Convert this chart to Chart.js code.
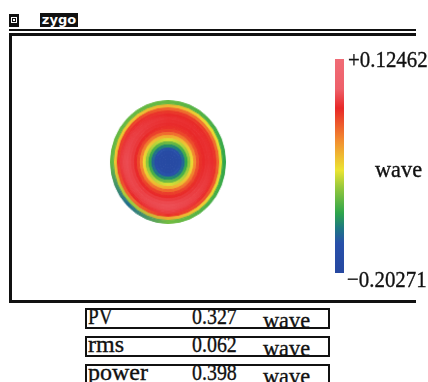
<!DOCTYPE html>
<html>
<head>
<meta charset="utf-8">
<script src="https://cdn.jsdelivr.net/npm/chart.js@4.4.0/dist/chart.umd.min.js"></script>
<style>
  html, body { margin: 0; padding: 0; background: #fff; width: 428px; height: 382px; overflow: hidden; }
  body { position: relative; font-family: "Liberation Serif", "Times New Roman", serif; color: #111; }
  .rule { position: absolute; background: #111; }
  #icon { position: absolute; left: 9px; top: 14px; width: 10px; height: 13px; background: #111; }
  #icon i { position: absolute; left: 2px; top: 3px; width: 4px; height: 4px; border: 1px solid #fff; }
  #icon b { position: absolute; left: 4px; top: 5px; width: 2px; height: 2px; background: #fff; }
  #brand { position: absolute; left: 40px; top: 13px; width: 38px; height: 14px; background: #111; color: #fff;
           font: bold 13px "DejaVu Sans", sans-serif; line-height: 13px; text-align: center; }
  #surface { position: absolute; left: 108px; top: 102px; transform: scale(0.967, 1.033); transform-origin: 60px 60px; }
  #scale { position: absolute; left: 330px; top: 40px; }
  .box { position: absolute; left: 85px; width: 245px; height: 21px; box-sizing: border-box; border: 2px solid #111; }
  .cell { position: absolute; font-size: 24px; line-height: 24px; height: 24px; white-space: nowrap; transform-origin: 0 0;
          -webkit-text-stroke: 0.35px #111; }
</style>
</head>
<body>
<div class="rule" style="left:9px;top:29px;width:407px;height:2px"></div>
<div class="rule" style="left:9px;top:33px;width:407px;height:3px"></div>
<div class="rule" style="left:9px;top:33px;width:3px;height:270px"></div>
<div class="rule" style="left:9px;top:300px;width:407px;height:3px"></div>
<div id="icon"><i></i><b></b></div>
<div id="brand">zygo</div>
<canvas id="surface" width="120" height="120"></canvas>
<canvas id="scale" width="98" height="260"></canvas>
<div id="stats"></div>

<script>
// Surface range (wave) shown on the colour bar
const waveRange = [-0.20271, 0.12462];

// Summary statistics
const statNames = ['PV', 'rms', 'power'];
const statValues = [0.327, 0.062, 0.398];
const statUnit = 'wave';

// Radial surface profiles (wave), aperture centre to edge, 20 equal-width zones,
// along eight azimuths going clockwise from the right-hand side
const east      = [-0.192, -0.191, -0.190, -0.188, -0.178, -0.145, -0.110, -0.075, -0.040, 0.000, 0.028, 0.045, 0.050, 0.053, 0.054, 0.052, 0.044, 0.018, -0.050, -0.110];
const southEast = [-0.192, -0.191, -0.190, -0.186, -0.168, -0.134, -0.098, -0.063, -0.028, 0.010, 0.034, 0.047, 0.055, 0.060, 0.062, 0.060, 0.052, 0.030, -0.035, -0.100];
const south     = [-0.192, -0.191, -0.190, -0.184, -0.155, -0.120, -0.085, -0.050, -0.015, 0.018, 0.040, 0.050, 0.060, 0.067, 0.070, 0.068, 0.062, 0.046, -0.015, -0.085];
const southWest = [-0.192, -0.191, -0.190, -0.186, -0.168, -0.134, -0.098, -0.063, -0.028, 0.010, 0.036, 0.050, 0.058, 0.063, 0.064, 0.060, 0.050, 0.018, -0.070, -0.140];
const west      = [-0.192, -0.191, -0.190, -0.188, -0.178, -0.145, -0.110, -0.075, -0.040, 0.002, 0.032, 0.050, 0.060, 0.065, 0.068, 0.066, 0.060, 0.040, -0.030, -0.090];
const northWest = [-0.192, -0.191, -0.190, -0.186, -0.168, -0.134, -0.098, -0.063, -0.028, 0.010, 0.036, 0.050, 0.056, 0.059, 0.060, 0.058, 0.052, 0.036, -0.030, -0.090];
const north     = [-0.192, -0.191, -0.190, -0.184, -0.155, -0.120, -0.085, -0.050, -0.015, 0.016, 0.038, 0.046, 0.051, 0.053, 0.054, 0.050, 0.042, 0.020, -0.020, -0.090];
const northEast = [-0.192, -0.191, -0.190, -0.186, -0.168, -0.134, -0.098, -0.063, -0.028, 0.008, 0.032, 0.044, 0.049, 0.051, 0.052, 0.048, 0.040, 0.010, -0.040, -0.100];

const azimuths = [east, southEast, south, southWest, west, northWest, north, northEast];
const zoneCount = east.length;

// Colour map: positions along the range (0 = low, 1 = high) and their colours
const mapStops  = [0, 0.14, 0.21, 0.28, 0.40, 0.48, 0.62, 0.77, 0.86, 1];
const mapColors = [[38, 72, 160], [40, 80, 170], [30, 120, 130], [45, 165, 75], [150, 200, 60],
                   [235, 228, 50], [242, 140, 48], [232, 40, 40], [238, 96, 106], [240, 108, 118]];

const rgb = c => `rgb(${c.map(Math.round).join(',')})`;

function waveColor(v) {
  const t = Math.min(1, Math.max(0, (v - waveRange[0]) / (waveRange[1] - waveRange[0])));
  let k = 0;
  while (k < mapStops.length - 2 && t > mapStops[k + 1]) k++;
  const f = (t - mapStops[k]) / (mapStops[k + 1] - mapStops[k]);
  const a = mapColors[k], b = mapColors[k + 1];
  return rgb(a.map((x, j) => x + (b[j] - x) * f));
}

// Each zone is a ring filled with a conic gradient through its eight azimuth values
const fillCache = {};
function zoneFill(context, zone) {
  const chart = context.chart;
  const area = chart.chartArea;
  if (!area) return waveColor(east[zone]);
  const key = zone + ':' + area.left + ':' + area.top + ':' + area.right;
  if (fillCache[key]) return fillCache[key];
  const cx = (area.left + area.right) / 2;
  const cy = (area.top + area.bottom) / 2;
  const g = chart.ctx.createConicGradient(0, cx, cy);
  azimuths.forEach((profile, k) => g.addColorStop(k / azimuths.length, waveColor(profile[zone])));
  g.addColorStop(1, waveColor(azimuths[0][zone]));
  fillCache[key] = g;
  return g;
}

// Doughnut datasets run outermost first, so zones are listed edge to centre
const zonesOuterFirst = Array.from({ length: zoneCount }, (_, k) => zoneCount - 1 - k);

new Chart(document.getElementById('surface'), {
  type: 'doughnut',
  data: {
    labels: ['surface'],
    datasets: zonesOuterFirst.map(zone => ({
      label: 'zone ' + zone,
      data: [1],
      backgroundColor: c => zoneFill(c, zone),
      borderColor: c => zoneFill(c, zone),
      borderWidth: 1,
      offset: 0,
      hoverOffset: 0
    }))
  },
  options: {
    responsive: false,
    animation: false,
    events: [],
    cutout: 0,
    layout: { padding: 0 },
    plugins: { legend: { display: false }, tooltip: { enabled: false } }
  }
});

// Colour bar with its range labels
function barFill(context) {
  const chart = context.chart;
  const y = chart.scales.y;
  if (!chart.chartArea || !y) return rgb(mapColors[0]);
  const g = chart.ctx.createLinearGradient(0, y.getPixelForValue(waveRange[0]), 0, y.getPixelForValue(waveRange[1]));
  mapStops.forEach((s, i) => g.addColorStop(s, rgb(mapColors[i])));
  return g;
}

const fmtWave = v => (v < 0 ? '\u2212' : '+') + Math.abs(v).toFixed(5);

function squeezedText(ctx, text, x, y, sx) {
  ctx.save();
  ctx.translate(x, y);
  ctx.scale(sx, 1);
  ctx.fillText(text, 0, 0);
  ctx.strokeText(text, 0, 0);
  ctx.restore();
}

const barLabels = {
  id: 'barLabels',
  afterDraw(chart) {
    const { ctx, chartArea, scales: { y } } = chart;
    const top = y.getPixelForValue(waveRange[1]);
    const bottom = y.getPixelForValue(waveRange[0]);
    ctx.save();
    ctx.fillStyle = '#111';
    ctx.strokeStyle = '#111';
    ctx.lineWidth = 0.35;
    ctx.font = '24px "Liberation Serif", serif';
    ctx.textBaseline = 'alphabetic';
    ctx.textAlign = 'left';
    squeezedText(ctx, fmtWave(waveRange[1]), chartArea.right + 4, top + 8, 0.87);
    squeezedText(ctx, fmtWave(waveRange[0]), chartArea.right + 3, bottom + 14, 0.87);
    squeezedText(ctx, statUnit, chartArea.right + 31, (top + bottom) / 2 + 11, 0.93);
    ctx.restore();
  }
};

new Chart(document.getElementById('scale'), {
  type: 'bar',
  data: {
    labels: [statUnit],
    datasets: [{
      data: [[waveRange[0], waveRange[1]]],
      backgroundColor: barFill,
      borderWidth: 0,
      barPercentage: 1,
      categoryPercentage: 1
    }]
  },
  options: {
    responsive: false,
    animation: false,
    events: [],
    layout: { padding: { left: 5, right: 84, top: 19, bottom: 27 } },
    scales: {
      x: { display: false },
      y: { display: false, min: waveRange[0], max: waveRange[1] }
    },
    plugins: { legend: { display: false }, tooltip: { enabled: false } }
  },
  plugins: [barLabels]
});

// Statistics boxes
const stats = document.getElementById('stats');
statNames.forEach((name, i) => {
  const top = 308 + i * 28;
  const box = document.createElement('div');
  box.className = 'box';
  box.style.top = top + 'px';
  stats.appendChild(box);

  const cells = [
    { text: name, left: 88, base: top + 16, sx: name === name.toUpperCase() ? 0.8 : 1 },
    { text: statValues[i].toFixed(3), left: 192, base: top + 16, sx: 0.83 },
    { text: statUnit, left: 263, base: top + 20, sx: 0.93 }
  ];
  cells.forEach(c => {
    const s = document.createElement('div');
    s.className = 'cell';
    s.textContent = c.text;
    s.style.left = c.left + 'px';
    s.style.top = (c.base - 20) + 'px';
    s.style.transform = `scaleX(${c.sx})`;
    stats.appendChild(s);
  });
});
</script>
</body>
</html>
